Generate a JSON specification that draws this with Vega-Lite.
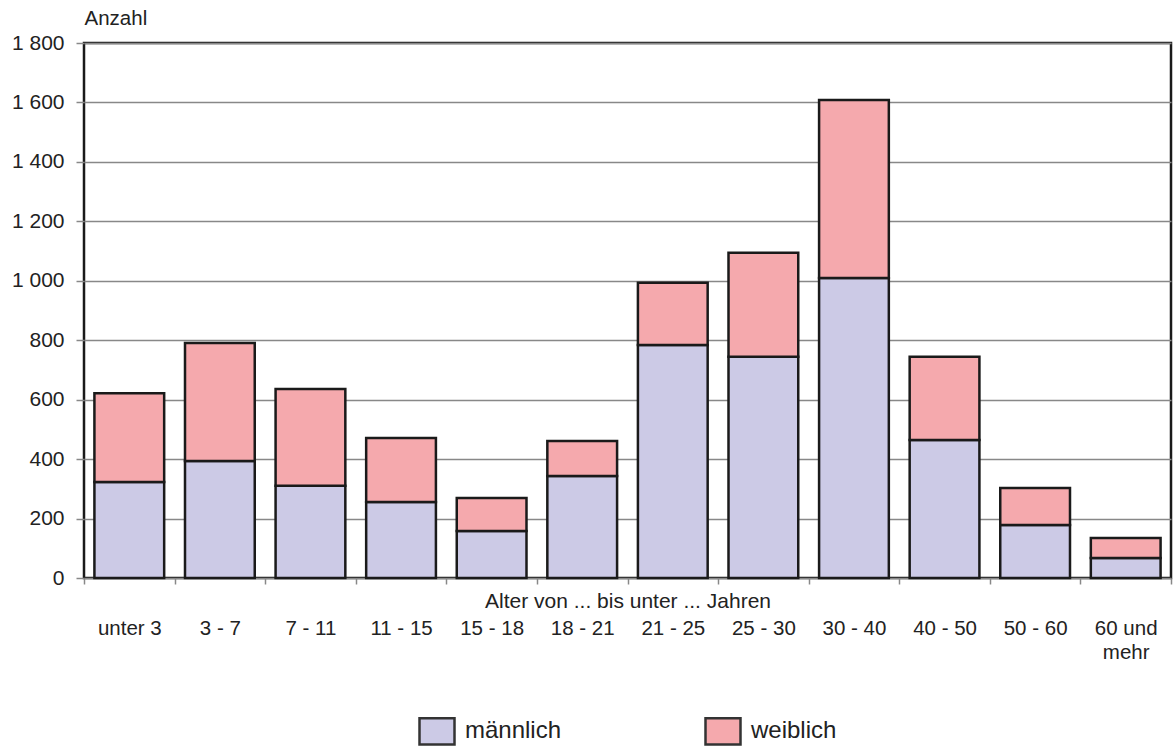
{
  "$schema": "https://vega.github.io/schema/vega-lite/v6.json",
  "width": 1087,
  "height": 535,
  "autosize": "none",
  "padding": {"left": 84, "top": 43, "right": 2, "bottom": 168},
  "config": {
    "font": "Liberation Sans",
    "view": {"stroke": "#1a1a1a", "strokeWidth": 2.5}
  },
  "data": {
    "values": [
      {"age": "unter 3", "g": "männlich", "o": 1, "n": 323},
      {"age": "unter 3", "g": "weiblich", "o": 2, "n": 299},
      {"age": "3 - 7", "g": "männlich", "o": 1, "n": 394},
      {"age": "3 - 7", "g": "weiblich", "o": 2, "n": 397},
      {"age": "7 - 11", "g": "männlich", "o": 1, "n": 310},
      {"age": "7 - 11", "g": "weiblich", "o": 2, "n": 326},
      {"age": "11 - 15", "g": "männlich", "o": 1, "n": 256},
      {"age": "11 - 15", "g": "weiblich", "o": 2, "n": 215},
      {"age": "15 - 18", "g": "männlich", "o": 1, "n": 158},
      {"age": "15 - 18", "g": "weiblich", "o": 2, "n": 111},
      {"age": "18 - 21", "g": "männlich", "o": 1, "n": 343},
      {"age": "18 - 21", "g": "weiblich", "o": 2, "n": 118},
      {"age": "21 - 25", "g": "männlich", "o": 1, "n": 784},
      {"age": "21 - 25", "g": "weiblich", "o": 2, "n": 209},
      {"age": "25 - 30", "g": "männlich", "o": 1, "n": 744},
      {"age": "25 - 30", "g": "weiblich", "o": 2, "n": 350},
      {"age": "30 - 40", "g": "männlich", "o": 1, "n": 1009},
      {"age": "30 - 40", "g": "weiblich", "o": 2, "n": 599},
      {"age": "40 - 50", "g": "männlich", "o": 1, "n": 464},
      {"age": "40 - 50", "g": "weiblich", "o": 2, "n": 280},
      {"age": "50 - 60", "g": "männlich", "o": 1, "n": 178},
      {"age": "50 - 60", "g": "weiblich", "o": 2, "n": 125},
      {"age": "60 und mehr", "g": "männlich", "o": 1, "n": 67},
      {"age": "60 und mehr", "g": "weiblich", "o": 2, "n": 68}
    ]
  },
  "mark": {"type": "bar", "stroke": "#1a1a1a", "strokeWidth": 2.5, "width": {"band": 0.77}},
  "encoding": {
    "x": {
      "field": "age",
      "type": "nominal",
      "sort": null,
      "scale": {"paddingInner": 0, "paddingOuter": 0},
      "axis": {
        "title": "Alter von ... bis unter ... Jahren",
        "titleFontSize": 21,
        "titleFontWeight": "normal",
        "titleColor": "#222",
        "titleY": 23,
        "titleBaseline": "middle",
        "labelAngle": 0,
        "labelFontSize": 20.5,
        "labelColor": "#222",
        "labelPadding": 34,
        "labelBaseline": "top",
        "labelLineHeight": 24,
        "labelExpr": "datum.value == '60 und mehr' ? ['60 und', 'mehr'] : datum.label",
        "tickBand": "extent",
        "tickSize": 6,
        "tickColor": "#888",
        "tickWidth": 1.5,
        "domain": false,
        "grid": false
      }
    },
    "y": {
      "field": "n",
      "type": "quantitative",
      "stack": "zero",
      "scale": {"domain": [0, 1800], "nice": false},
      "axis": {
        "values": [0, 200, 400, 600, 800, 1000, 1200, 1400, 1600, 1800],
        "labelExpr": "replace(format(datum.value, ','), ',', ' ')",
        "labelFontSize": 21,
        "labelColor": "#222",
        "labelPadding": 12,
        "tickSize": 8,
        "tickColor": "#888",
        "tickWidth": 1.5,
        "gridColor": "#888",
        "gridWidth": 1.5,
        "gridOpacity": 1,
        "domain": false,
        "title": "Anzahl",
        "titleAngle": 0,
        "titleX": 0,
        "titleY": -25,
        "titleAlign": "left",
        "titleBaseline": "middle",
        "titleFontSize": 20.5,
        "titleFontWeight": "normal",
        "titleColor": "#222"
      }
    },
    "color": {
      "field": "g",
      "type": "nominal",
      "scale": {"domain": ["männlich", "weiblich"], "range": ["#CCCAE6", "#F5A9AD"]},
      "legend": {
        "title": null,
        "orient": "none",
        "direction": "horizontal",
        "legendX": 334,
        "legendY": 669,
        "symbolType": "M-1,-0.75L1,-0.75L1,0.75L-1,0.75Z",
        "symbolSize": 1225,
        "symbolStrokeColor": "#333",
        "symbolStrokeWidth": 2.5,
        "symbolOpacity": 1,
        "labelFontSize": 24,
        "labelColor": "#222",
        "labelOffset": 9,
        "columnPadding": 138
      }
    },
    "order": {"field": "o", "type": "quantitative"}
  }
}
